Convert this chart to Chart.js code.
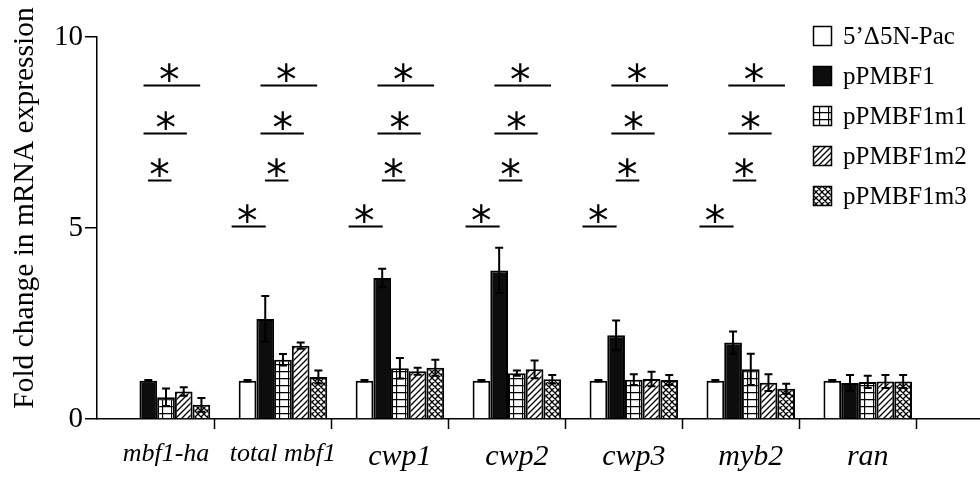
<!DOCTYPE html>
<html>
<head>
<meta charset="utf-8">
<script src="https://cdn.jsdelivr.net/npm/chart.js@4.4.1/dist/chart.umd.min.js"></script>
<style>
  html, body { margin: 0; padding: 0; background: #fff; }
  #wrap { width: 980px; height: 480px; }
</style>
</head>
<body>
<div id="wrap"><canvas id="chart" width="980" height="480"></canvas></div>
<script>
// gene groups on the x axis and the five constructs
var genes = ["mbf1-ha", "total mbf1", "cwp1", "cwp2", "cwp3", "myb2", "ran"];
var seriesNames = ["5’Δ5N-Pac", "pPMBF1", "pPMBF1m1", "pPMBF1m2", "pPMBF1m3"];

// fold change (mean)
var vectorVals = [null, 1, 1, 1, 1, 1, 1];
var pmbf1Vals = [1.0, 2.62, 3.69, 3.89, 2.19, 2.0, 0.94];
var m1Vals = [0.57, 1.55, 1.33, 1.2, 1.03, 1.3, 0.97];
var m2Vals = [0.72, 1.92, 1.25, 1.3, 1.05, 0.95, 0.98];
var m3Vals = [0.37, 1.1, 1.34, 1.04, 1.02, 0.79, 0.98];

// error bars (SD)
var vectorErr = [null, 0.02, 0.02, 0.02, 0.02, 0.02, 0.02];
var pmbf1Err = [0.02, 0.6, 0.24, 0.59, 0.39, 0.29, 0.21];
var m1Err = [0.23, 0.15, 0.27, 0.07, 0.14, 0.41, 0.16];
var m2Err = [0.11, 0.08, 0.09, 0.23, 0.19, 0.22, 0.17];
var m3Err = [0.18, 0.17, 0.21, 0.11, 0.13, 0.13, 0.17];

var yTicks = [0, 5, 10];
var yTitle = "Fold change in mRNA expression";

// significance rows (height in fold units) and which gene groups have them
var sigLevels = [8.75, 7.5, 6.25, 5.05];
var sigGroups = [[0, 1, 2, 3, 4, 5], [0, 1, 2, 3, 4, 5], [0, 1, 2, 3, 4, 5], [1, 2, 3, 4, 5]];

var allVals = [vectorVals, pmbf1Vals, m1Vals, m2Vals, m3Vals];
var allErr = [vectorErr, pmbf1Err, m1Err, m2Err, m3Err];

var serif = "'Liberation Serif', 'Times New Roman', serif";

function makePattern(kind) {
    var c = document.createElement("canvas");
    var w = kind === "grid" ? 9 : 6, h = kind === "grid" ? 7 : 6;
    c.width = w; c.height = h;
    var g = c.getContext("2d");
    g.fillStyle = "#fff";
    g.fillRect(0, 0, w, h);
    g.strokeStyle = "#000";
    g.lineWidth = 1.3;
    g.beginPath();
    if (kind === "grid") {
        g.moveTo(0.5, 0); g.lineTo(0.5, h);
        g.moveTo(0, 0.5); g.lineTo(w, 0.5);
    }
    if (kind === "hatch" || kind === "cross") {
        g.moveTo(-1, h + 1); g.lineTo(w + 1, -1);
        g.moveTo(-1, 1); g.lineTo(1, -1);
        g.moveTo(w - 1, h + 1); g.lineTo(w + 1, h - 1);
    }
    if (kind === "cross") {
        g.moveTo(-1, -1); g.lineTo(w + 1, h + 1);
        g.moveTo(w - 1, -1); g.lineTo(w + 1, 1);
        g.moveTo(-1, h - 1); g.lineTo(1, h + 1);
    }
    g.stroke();
    return g.createPattern(c, "repeat");
}

var fills = ["#ffffff", "#0d0d0d", makePattern("grid"), makePattern("hatch"), makePattern("cross")];

var datasets = seriesNames.map(function (name, k) {
    return {
        label: name,
        data: allVals[k].map(function (v, i) { return { x: i, y: v }; }),
        backgroundColor: fills[k],
        borderColor: "#000",
        borderWidth: 2,
        categoryPercentage: 0.757,
        barPercentage: 1.0
    };
});

// error bars on top of each bar
var errorBars = {
    id: "errorBars",
    afterDatasetsDraw: function (chart) {
        var ctx = chart.ctx, y = chart.scales.y;
        ctx.save();
        ctx.strokeStyle = "#000";
        ctx.lineWidth = 2;
        chart.data.datasets.forEach(function (ds, k) {
            chart.getDatasetMeta(k).data.forEach(function (bar, i) {
                var v = allVals[k][i], e = allErr[k][i];
                if (v == null || e == null) return;
                var top = y.getPixelForValue(v + e);
                var bot = y.getPixelForValue(Math.max(0, v - e));
                ctx.beginPath();
                ctx.moveTo(bar.x, top); ctx.lineTo(bar.x, bot);
                ctx.moveTo(bar.x - 4, top); ctx.lineTo(bar.x + 4, top);
                ctx.moveTo(bar.x - 4, bot); ctx.lineTo(bar.x + 4, bot);
                ctx.stroke();
            });
        });
        ctx.restore();
    }
};

// stars, tick marks, legend, y title
var extras = {
    id: "extras",
    afterDraw: function (chart) {
        var ctx = chart.ctx, xs = chart.scales.x, ys = chart.scales.y, area = chart.chartArea;
        ctx.save();
        ctx.strokeStyle = "#000";
        ctx.fillStyle = "#000";

        // tick marks between groups
        ctx.lineWidth = 1.5;
        genes.forEach(function (g, i) {
            var px = Math.round(xs.getPixelForValue(i + 0.41)) + 0.5;
            ctx.beginPath();
            ctx.moveTo(px, area.bottom);
            ctx.lineTo(px, area.bottom + 10);
            ctx.stroke();
        });

        // significance lines (start, end, star position in bar widths from group centre)
        var shape = [[-1.27, 1.93, 0.2], [-1.27, 1.18, 0.0], [-1.02, 0.31, -0.35], [-2.9, -0.97, -2.0]];
        var bw = chart.getDatasetMeta(1).data[0].width;
        ctx.font = "41px 'DejaVu Sans'";
        var m = ctx.measureText("*");
        ctx.lineWidth = 2;
        sigLevels.forEach(function (lvl, r) {
            var ly = Math.round(ys.getPixelForValue(lvl)) + 0.5;
            sigGroups[r].forEach(function (gi) {
                var c = xs.getPixelForValue(gi);
                ctx.beginPath();
                ctx.moveTo(c + shape[r][0] * bw, ly);
                ctx.lineTo(c + shape[r][1] * bw, ly);
                ctx.stroke();
                var sx = c + shape[r][2] * bw - (m.actualBoundingBoxRight - m.actualBoundingBoxLeft) / 2;
                var sy = ly - 13 - (m.actualBoundingBoxDescent - m.actualBoundingBoxAscent) / 2;
                ctx.textAlign = "left";
                ctx.textBaseline = "alphabetic";
                ctx.fillText("*", sx, sy);
            });
        });

        // legend
        ctx.font = "25px " + serif;
        ctx.textBaseline = "middle";
        ctx.lineWidth = 1.5;
        seriesNames.forEach(function (name, k) {
            var cy = 36 + k * 40;
            ctx.fillStyle = fills[k];
            ctx.fillRect(813, cy - 10, 19, 20);
            ctx.strokeRect(813.5, cy - 9.5, 18, 19);
            ctx.fillStyle = "#000";
            ctx.fillText(name, 843, cy + 1);
        });

        // y axis title
        ctx.translate(33, 208);
        ctx.rotate(-Math.PI / 2);
        ctx.font = "29.5px " + serif;
        ctx.textAlign = "center";
        ctx.textBaseline = "alphabetic";
        ctx.fillText(yTitle, 0, 0);
        ctx.restore();
    }
};

new Chart(document.getElementById("chart"), {
    type: "bar",
    data: { datasets: datasets },
    options: {
        responsive: false,
        animation: false,
        layout: { padding: { top: 37, right: 0, left: 0, bottom: 0 } },
        plugins: { legend: { display: false }, tooltip: { enabled: false } },
        scales: {
            x: {
                type: "linear",
                min: -0.59,
                max: 6.96,
                offset: false,
                afterFit: function (s) { s.height = 61; },
                grid: { display: false, drawTicks: false },
                border: { color: "#000", width: 1.5 },
                ticks: {
                    stepSize: 1,
                    includeBounds: false,
                    autoSkip: false,
                    maxRotation: 0,
                    padding: 20,
                    color: "#000",
                    callback: function (v) { return genes[v] !== undefined ? genes[v] : ""; },
                    font: function (c) {
                        var small = c.tick && c.tick.value < 2;
                        return { family: serif, style: "italic", size: small ? 26 : 30 };
                    }
                }
            },
            y: {
                min: 0,
                max: 10,
                afterFit: function (s) { s.width = 97; },
                afterBuildTicks: function (s) {
                    s.ticks = yTicks.map(function (v) { return { value: v }; });
                },
                grid: { drawOnChartArea: false, tickLength: 12, color: "#000", lineWidth: 1.5 },
                border: { color: "#000", width: 1.5 },
                ticks: { padding: 2, color: "#000", font: { family: serif, size: 29 } }
            }
        }
    },
    plugins: [errorBars, extras]
});
</script>
</body>
</html>
